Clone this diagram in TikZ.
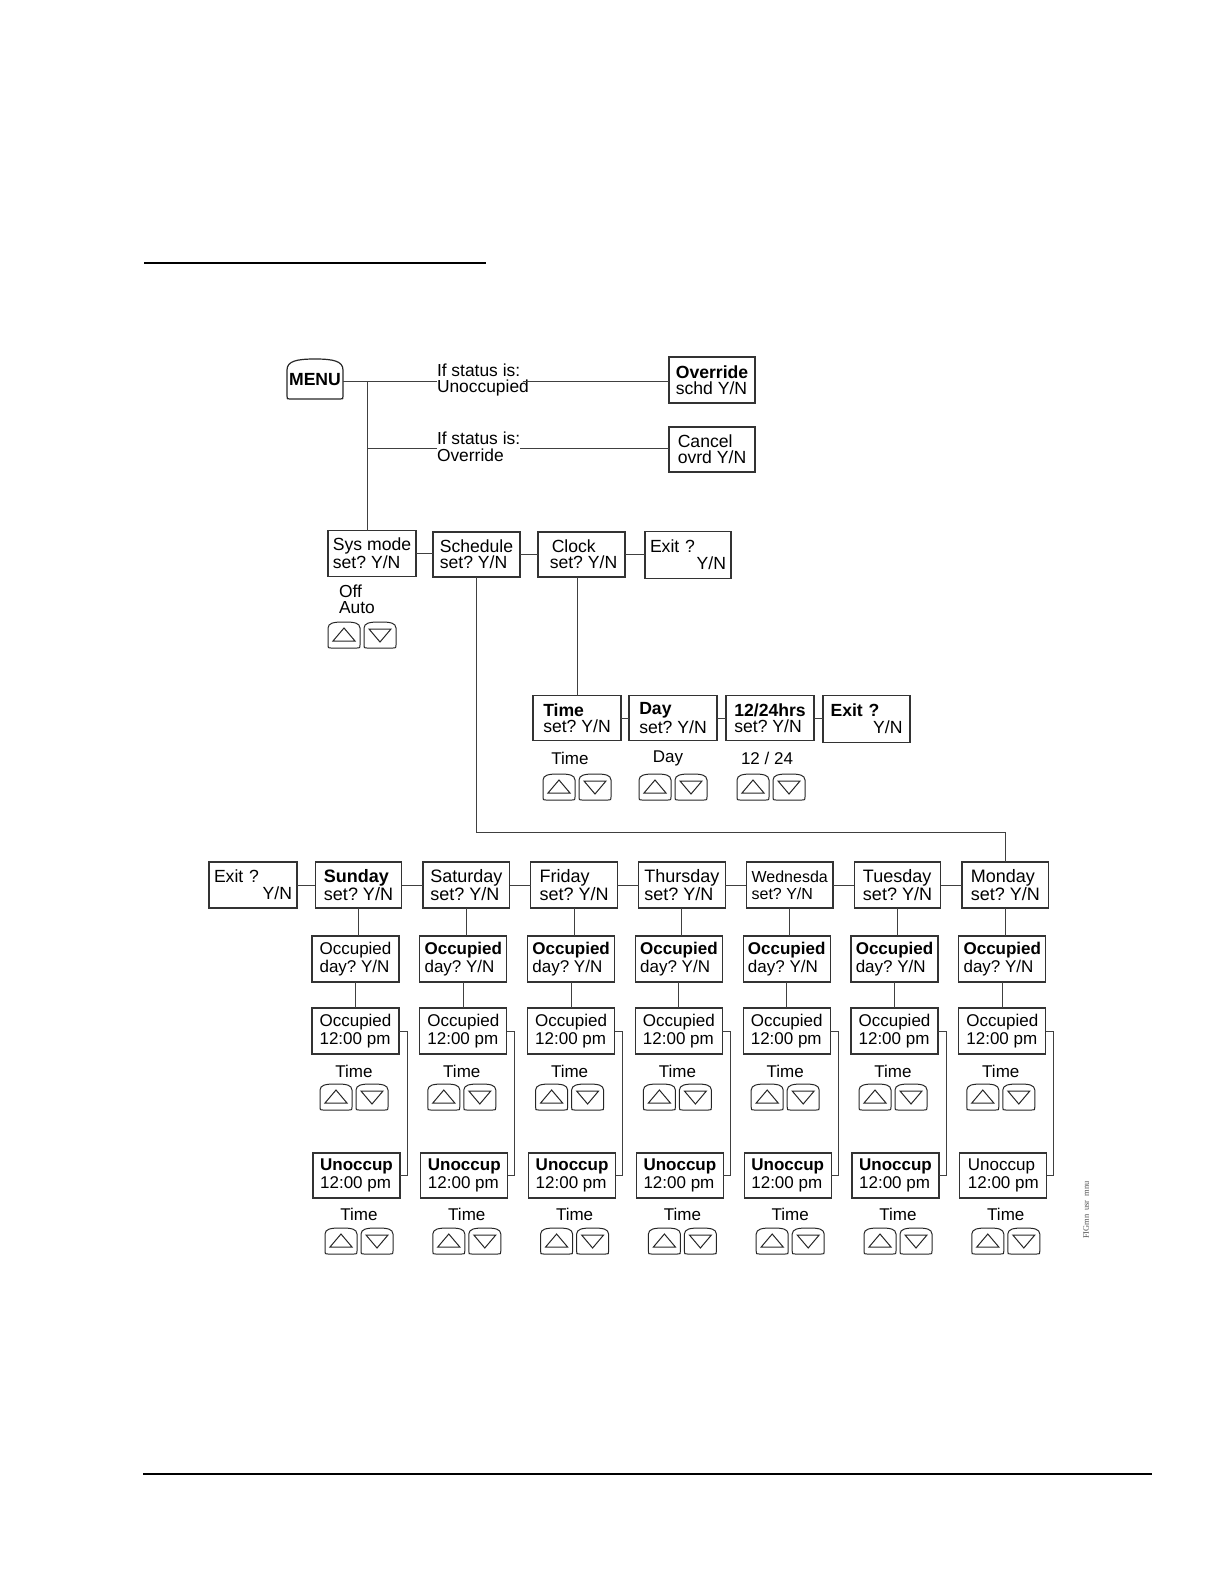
\documentclass[tikz,border=0pt]{standalone}
\usepackage{fontspec}
\setmainfont{Liberation Sans}
\newfontfamily\tinyserif{Liberation Serif}
\frenchspacing
\begin{document}
\begin{tikzpicture}[x=0.5pt,y=-0.5pt,
  nbox/.style={draw=black!80, line width=0.6pt, inner sep=0pt, outer sep=0pt,
    minimum width=43.5pt, minimum height=23pt, align=left,
    font=\fontsize{8.8}{8.2}\selectfont},
  lbox/.style={nbox, font=\fontsize{8.5}{7.6}\selectfont},
  xbox/.style={nbox, font=\fontsize{8.8}{8.7}\selectfont},
  conn/.style={draw=black!75, line width=0.5pt},
  lbl/.style={inner sep=0pt, outer sep=0pt, font=\fontsize{8.5}{9}\selectfont},
  btn/.style={draw=black!85, line width=0.5pt},
  btnpair/.pic={
    \foreach \o in {0,36}{
      \draw[btn] (\o+16,0) .. controls (\o+5,0) and (\o+0.5,1) .. (\o,6) -- (\o,23)
        .. controls (\o,26) .. (\o+3,26) -- (\o+29,26) .. controls (\o+32,26) .. (\o+32,23)
        -- (\o+32,6) .. controls (\o+31.5,1) and (\o+27,0) .. (\o+16,0) -- cycle;
    }
    \draw[btn] (5,19) -- (27,19) -- (16,6) -- cycle;
    \draw[btn] (41,7) -- (63,7) -- (52,20) -- cycle;
  }]
\useasboundingbox (0,0) rectangle (1224,1584);

% page rules
\draw[line width=0.8pt] (144,263) -- (486,263);
\draw[line width=1pt] (143,1474) -- (1152,1474);

% MENU
\node[inner sep=0pt, outer sep=0pt, minimum width=28pt, minimum height=20pt,
  font=\bfseries\fontsize{8.8}{9}\selectfont] (menu) at (315,380) {MENU};
\draw[btn, line width=0.6pt] (315,359) .. controls (297,359) and (287,361) .. (287,370)
  -- (287,396) .. controls (287,399) .. (290,399) -- (340,399)
  .. controls (343,399) .. (343,396) -- (343,370)
  .. controls (343,361) and (333,359) .. (315,359) -- cycle;

% status branches
\node[nbox, minimum width=43pt] (ovr) at (712,380) {\textbf{Override}\\schd Y/N};
\node[nbox, minimum width=43pt, minimum height=22.5pt] (cnl) at (712,449.5) {Cancel\\ovrd Y/N};
\node[lbl, anchor=west, align=left, font=\fontsize{8.7}{8}\selectfont] (st1) at (437,379.5) {If status is:\\Unoccupied};
\node[lbl, anchor=west, align=left, font=\fontsize{8.7}{8.6}\selectfont] (st2) at (437,447) {If status is:\\Override};
\coordinate (mj) at (367,381);
\coordinate (mj2) at (367,448);
\draw[conn] (menu.east |- mj) -- (st1.west |- mj);
\draw[conn] ([xshift=-3pt]st1.east |- mj) -- (ovr.west |- mj);
\draw[conn] (mj2) -- (st2.west |- mj2);
\draw[conn] (st2.east |- mj2) -- (cnl.west |- mj2);

% main row
\node[nbox, minimum width=44pt] (sys) at (372,553.5) {Sys mode\\set? Y/N};
\node[nbox, minimum height=22.5pt] (sch) at (476.5,554.5) {Schedule\\set? Y/N};
\node[nbox, minimum height=22.5pt] (clk) at (581.5,554.5) {\hspace*{3pt}Clock\\\hspace*{2pt}set? Y/N};
\node[xbox, minimum width=43pt, minimum height=23.5pt, text width=38pt] (ex1) at (688,555) {Exit ?\\\hspace*{\fill}Y/N\hspace*{5pt}};
\draw[conn] (mj) -- (mj |- sys.north);
\draw[conn] (sys.east) -- (sch.west |- sys.east);
\draw[conn] (sch.east) -- (clk.west);
\draw[conn] (clk.east) -- (ex1.west |- clk.east);

\node[lbl, anchor=west, align=left, font=\fontsize{8.7}{8}\selectfont] (offauto) at (339,599) {Off\\Auto};
\pic at (328,622) {btnpair};

% clock sub-row
\node[nbox, minimum width=44pt, minimum height=22.5pt] (tim) at (577,718) {\textbf{Time}\\set? Y/N};
\node[nbox, minimum width=44pt, minimum height=22.5pt] (dayset) at (673,718) {\textbf{Day}\\set? Y/N};
\node[nbox, minimum width=44pt, minimum height=22.5pt] (hrs) at (770,718) {\textbf{12/24hrs}\\set? Y/N};
\node[xbox, minimum height=23.5pt, text width=36pt] (ex2) at (866.5,719) {\textbf{Exit ?}\\\hspace*{\fill}Y/N};
\draw[conn] (clk.south -| tim.north) -- (tim.north);
\draw[conn] (tim.east) -- (dayset.west);
\draw[conn] (dayset.east) -- (hrs.west);
\draw[conn] (hrs.east) -- (ex2.west |- hrs.east);
\node[lbl] (lt) at (570,758) {Time};
\node[lbl] (ld) at (668,758) {Day};
\node[lbl] (lh) at (767,758) {12 / 24};
\pic at (543,774) {btnpair};
\pic at (639,774) {btnpair};
\pic at (737,774) {btnpair};

% schedule row
\node[xbox, minimum width=44pt, text width=39pt] (ex3) at (253,885) {Exit ?\\\hspace*{\fill}Y/N};
\foreach \i/\dn/\od/\uo/\fs in {
  0/\textbf{Sunday}/Occupied/\textbf{Unoccup}/9,
  1/Saturday/\textbf{Occupied}/\textbf{Unoccup}/9,
  2/Friday/\textbf{Occupied}/\textbf{Unoccup}/9,
  3/Thursday/\textbf{Occupied}/\textbf{Unoccup}/9,
  4/Wednesda/\textbf{Occupied}/\textbf{Unoccup}/8,
  5/Tuesday/\textbf{Occupied}/\textbf{Unoccup}/9,
  6/Monday/\textbf{Occupied}/Unoccup/9}{
  \pgfmathsetmacro\dx{107.8*\i}
  \node[nbox, minimum width=43.3pt, font={\fontsize{\fs}{8.3}\selectfont}] (day\i) at (358.5+\dx,885) {\dn\\set? Y/N};
  \node[lbox] (od\i) at (355.5+\dx,959) {\od\\day? Y/N};
  \node[lbox] (ot\i) at (355.5+\dx,1031) {Occupied\\12:00 pm};
  \node[lbox, minimum height=22.5pt] (uo\i) at (356.5+\dx,1175.5) {\uo\\12:00 pm};
  \draw[conn] (day\i.south) -- (day\i.south |- od\i.north);
  \draw[conn] (od\i.south) -- (ot\i.north);
  \draw[conn] (ot\i.east) -- ++(8,0) |- (uo\i.east);
  \node[lbl] (tla\i) at (354+\dx,1071) {Time};
  \pic at (320+\dx,1084) {btnpair};
  \node[lbl] (tlb\i) at (359+\dx,1214) {Time};
  \pic at (325+\dx,1228) {btnpair};
}
\draw[conn] (ex3.east) -- (day0.west);
\foreach \a/\b in {0/1,1/2,2/3,3/4,4/5,5/6}{
  \draw[conn] (day\a.east) -- (day\b.west);
}
\coordinate (bus) at (475,832);
\draw[conn] (sch.south) -- (sch.south |- bus) -| (day6.north);

% figure tag
\node[rotate=90, inner sep=0pt, text=black!70, font=\tinyserif\fontsize{4.2}{5}\selectfont] (figtag) at (1086,1210) {FIGmn\ \ usr\ \ mnu};
\end{tikzpicture}
\end{document}
